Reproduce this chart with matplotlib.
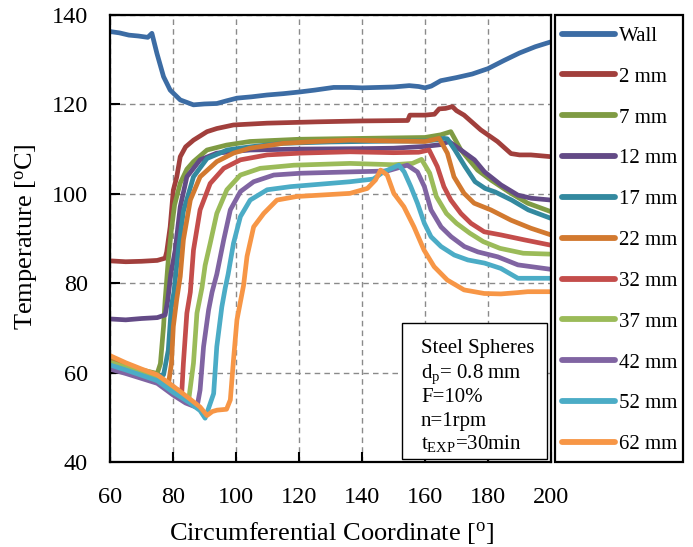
import matplotlib
matplotlib.use('Agg')
import matplotlib.pyplot as plt
from matplotlib.patches import Rectangle

plt.rcParams['font.family'] = ['Liberation Serif', 'DejaVu Serif']
plt.rcParams['mathtext.fontset'] = 'custom'
plt.rcParams['mathtext.rm'] = 'Liberation Serif'
plt.rcParams['mathtext.it'] = 'Liberation Serif:italic'

# ---------------- data ----------------
labels = ['Wall', '2 mm', '7 mm', '12 mm', '17 mm', '22 mm',
          '32 mm', '37 mm', '42 mm', '52 mm', '62 mm']
colors = ['#3C6CA4', '#A13F3C', '#7F9B43', '#634A86', '#33899F', '#D2792F',
          '#C44D4B', '#9BBB59', '#8064A2', '#4BACC6', '#F79646']

wall_x = [60, 63, 66, 69, 72, 73.3, 74.9, 77, 79.1, 82.3, 86.5, 90, 93.9, 97, 100.3, 105,
          109.8, 115, 120.4, 125, 131, 136.2, 140, 145, 150, 155, 158, 160, 162, 165,
          170, 175, 180, 185, 190, 195, 200]
wall_y = [136.3, 136.0, 135.5, 135.3, 135.0, 135.9, 131.4, 126.2, 123.2, 121.0, 119.9,
          120.1, 120.2, 120.8, 121.4, 121.7, 122.1, 122.4, 122.8, 123.2, 123.8, 123.8,
          123.7, 123.8, 123.9, 124.2, 124.0, 123.7, 124.1, 125.3, 126.0, 126.8, 128.0,
          129.8, 131.5, 132.9, 134.0]

mm2_x = [60, 65, 70, 75, 77.5, 78, 79.1, 80.1, 81.2, 82.3, 84, 86.5, 90.8, 93.9, 99.2,
         109.8, 125.8, 140, 154.5, 155.2, 160, 163, 164.5, 166.5, 168.7, 170, 172.4,
         177.7, 183, 187.3, 190, 193.6, 200]
mm2_y = [85.0, 84.8, 84.9, 85.1, 85.6, 87.0, 92.6, 100.8, 103.8, 108.3, 110.5, 112.0,
         113.9, 114.6, 115.4, 115.8, 116.1, 116.3, 116.4, 117.6, 117.6, 117.8, 119.0,
         119.1, 119.5, 118.6, 117.6, 114.3, 111.7, 109.0, 108.7, 108.7, 108.3]

mm7_x = [60, 65, 70, 75, 76, 77, 77.5, 78.5, 79.5, 80.5, 82.3, 84.4, 86.5, 90.8, 97,
         104.4, 120, 140, 160, 165, 168.2, 171.4, 176.7, 180.9, 187.3, 192.6, 200]
mm7_y = [62.8, 61.6, 60.6, 59.8, 62.0, 70.3, 76.2, 85.2, 92.0, 97.5, 102.4, 105.5,
         107.2, 109.8, 110.9, 111.7, 112.2, 112.4, 112.6, 113.2, 113.9, 109.8, 105.3,
         103.1, 100.1, 97.9, 96.0]

mm12_x = [60, 65, 70, 75, 77.5, 78.3, 79.3, 80.7, 82.3, 84.4, 88.6, 93.9, 104.4, 120,
          140, 150, 160, 165, 167.6, 171.4, 175.7, 178.9, 184.1, 189.5, 193.8, 200]
mm12_y = [72.0, 71.8, 72.1, 72.3, 72.9, 76.0, 82.0, 87.4, 97.1, 103.8, 107.6, 109.1,
          109.8, 110.0, 110.1, 110.2, 110.6, 111.0, 111.7, 109.8, 107.6, 104.9, 102.0,
          99.7, 99.0, 98.6]

mm17_x = [60, 65, 70, 75, 77, 78.5, 79.5, 80.3, 81.7, 83.3, 86.5, 90.8, 97.2, 104.4,
          115, 130, 150, 160, 164, 166, 167.1, 169.5, 172.7, 175.9, 179.1, 182.3, 187.5,
          192.8, 200]
mm17_y = [62.2, 61.0, 60.0, 59.2, 59.5, 65.0, 75.0, 78.0, 87.4, 96.1, 103.8, 107.9,
          109.8, 110.5, 111.3, 111.6, 111.8, 111.8, 112.1, 112.4, 112.3, 109.8, 106.1,
          102.7, 101.2, 100.4, 98.6, 96.4, 94.5]

mm22_x = [60, 65, 70, 75, 78.6, 79.5, 80.1, 81.2, 82.3, 83.3, 85.5, 88.6, 93.9, 99.2,
          104.4, 115, 125.6, 136.2, 150, 160, 164.5, 167.1, 169.2, 172.4, 175.6, 180.9,
          187.3, 193.6, 200]
mm22_y = [62.5, 61.3, 60.2, 59.0, 57.7, 62.0, 70.3, 76.5, 81.5, 89.7, 98.6, 103.8,
          107.2, 109.1, 110.2, 111.3, 111.7, 112.0, 111.8, 111.7, 112.4, 109.1, 103.8,
          100.1, 97.9, 96.4, 94.1, 92.3, 90.8]

mm32_x = [60, 65, 70, 75, 80, 82.8, 83.3, 84.4, 85.5, 86.5, 88.6, 91.8, 96.1, 101.4,
          109.9, 120.5, 136.2, 150, 158, 161.3, 163.9, 166, 168.2, 171.4, 174.6, 178.8,
          184.1, 191.5, 200]
mm32_y = [62.0, 61.0, 59.8, 58.7, 56.5, 55.8, 62.1, 73.3, 78.0, 87.4, 96.4, 102.3,
          105.7, 107.6, 108.7, 109.1, 109.4, 109.2, 109.3, 109.8, 106.1, 101.6, 98.6,
          95.6, 93.4, 91.5, 90.8, 89.7, 88.5]

mm37_x = [60, 65, 70, 75, 80, 83, 85, 86.5, 87.6, 89.2, 90.2, 91.8, 93.9, 97.1, 101.4,
          107.7, 118.4, 136.2, 150, 156, 158.9, 161.5, 163.6, 166.8, 170, 174.2, 178.5,
          183.8, 191.2, 200]
mm37_y = [62.3, 61.2, 60.0, 58.9, 56.3, 55.0, 54.0, 62.1, 73.3, 79.0, 84.0, 88.9,
          95.6, 100.9, 104.2, 105.7, 106.4, 106.8, 106.5, 106.8, 107.7, 104.6, 99.4,
          95.6, 93.4, 91.2, 89.3, 87.8, 86.7, 86.5]

mm42_x = [60, 65, 70, 75, 80, 84, 87.6, 88.6, 89.7, 91.3, 92.4, 93.9, 96.1, 98.2, 101.4,
          105.6, 112, 120.5, 136.2, 148, 154.4, 157.6, 159.8, 161.9, 165.1, 168.3, 172.5,
          176.8, 183.1, 189.5, 200]
mm42_y = [60.8, 59.8, 58.7, 57.6, 55.0, 53.2, 52.2, 56.1, 65.8, 74.0, 78.0, 82.0, 89.7,
          96.4, 100.5, 102.7, 104.2, 104.6, 104.9, 105.1, 106.4, 104.9, 101.6, 96.4,
          92.6, 90.4, 88.2, 87.0, 85.9, 84.1, 83.1]

mm52_x = [60, 65, 70, 75, 80, 85, 88.6, 90.2, 92.9, 93.9, 95.5, 96.6, 97.5, 99.2, 101.4,
          104.5, 109.9, 117.3, 136.2, 143.6, 146.8, 151.7, 153.4, 155.5, 157.6, 159.8,
          161.9, 165.1, 169.3, 173.6, 178.9, 184.1, 189.5, 200]
mm52_y = [61.7, 60.6, 59.4, 58.2, 55.6, 53.4, 51.5, 49.8, 55.3, 65.8, 74.7, 79.0, 82.0,
          88.9, 94.9, 98.6, 100.9, 101.6, 102.7, 103.3, 104.9, 106.4, 104.9, 101.6,
          97.9, 93.4, 90.4, 88.2, 86.3, 85.2, 84.5, 83.3, 81.1, 81.1]

mm62_x = [60, 65, 70, 75, 80, 85, 88.6, 90.8, 92.5, 94, 97, 98.2, 99.2, 100.3, 102.4,
          103.5, 105.6, 108.8, 113, 119.3, 136.2, 141.7, 144.3, 145.9, 148, 150.1, 153.3,
          156.5, 159.7, 162.9, 167.1, 172.4, 178.8, 184.1, 189.5, 192.6, 200]
mm62_y = [63.8, 62.2, 60.8, 59.5, 57.0, 54.3, 52.3, 50.4, 51.3, 51.6, 51.8, 53.9, 62.8,
          71.8, 79.5, 86.0, 92.6, 95.6, 98.6, 99.4, 100.1, 101.2, 103.1, 105.3, 104.2,
          100.1, 97.1, 92.6, 87.4, 83.7, 80.7, 78.5, 77.7, 77.6, 77.9, 78.1, 78.1]

series_x = [wall_x, mm2_x, mm7_x, mm12_x, mm17_x, mm22_x, mm32_x, mm37_x, mm42_x, mm52_x, mm62_x]
series_y = [wall_y, mm2_y, mm7_y, mm12_y, mm17_y, mm22_y, mm32_y, mm37_y, mm42_y, mm52_y, mm62_y]

x_ticks = [60, 80, 100, 120, 140, 160, 180, 200]
y_ticks = [40, 60, 80, 100, 120, 140]

info_lines = ['Steel Spheres', 'd$_{\\mathrm{p}}$= 0.8 mm', 'F=10%', 'n=1rpm',
              't$_{\\mathrm{EXP}}$=30min']

# ---------------- figure ----------------
W, H = 693, 547
fig = plt.figure(figsize=(W / 100, H / 100), dpi=100)
ax = fig.add_axes([110 / W, 1 - 462 / H, 441 / W, 447 / H])

handles = []
for xs, ys, c, lab in zip(series_x, series_y, colors, labels):
    ln, = ax.plot(xs, ys, color=c, lw=3.4, solid_capstyle='round',
                  solid_joinstyle='round', label=lab)
    handles.append(ln)

ax.set_xlim(60, 200)
ax.set_ylim(40, 140)
ax.set_xticks(x_ticks)
ax.set_yticks(y_ticks)
ax.grid(True, color='#8a8a8a', linestyle=(0, (4, 3)), linewidth=1.0)
ax.set_axisbelow(True)
ax.tick_params(direction='in', length=7, width=1.5, labelsize=17.5, colors='black')
ax.tick_params(axis='x', pad=18)
ax.tick_params(axis='y', pad=16)
for s in ax.spines.values():
    s.set_linewidth(1.6)
    s.set_color('black')

# info box
box = Rectangle(((402 - 110) / 441, (462 - 459) / 447), (547 - 402) / 441, (459 - 323) / 447,
                transform=ax.transAxes, facecolor='white', edgecolor='black', lw=1.0, zorder=5)
ax.add_patch(box)
baselines = [353, 378, 402, 426, 449]
for txt, b in zip(info_lines, baselines):
    ax.text((421 - 110) / 441, (462 - b) / 447, txt, transform=ax.transAxes,
            fontsize=15, ha='left', va='baseline', zorder=6)

# axis labels
fig.text(33 / W, 1 - 237 / H, 'Temperature [$^{\\mathrm{o}}$C]', fontsize=19,
         rotation=90, rotation_mode='anchor', ha='center', va='baseline')
fig.text(331 / W, 1 - 540 / H, 'Circumferential Coordinate [$^{\\mathrm{o}}$]',
         fontsize=19, ha='center', va='baseline')

# legend (frame drawn as a separate rectangle spanning the plot height)
leg = fig.legend(handles, labels, loc='upper left',
                 bbox_to_anchor=(554 / W, 1 - 18 / H), bbox_transform=fig.transFigure,
                 borderaxespad=0, frameon=False, fontsize=15, handlelength=2.55,
                 handletextpad=0.15, labelspacing=1.02, borderpad=0.4)
for lh in leg.get_lines():
    lh.set_linewidth(4.2)
fig.add_artist(Rectangle((555 / W, 1 - 462 / H), 128 / W, 447 / H,
                         transform=fig.transFigure, fill=False,
                         edgecolor='black', lw=1.6))

fig.savefig('out.png', dpi=100)
